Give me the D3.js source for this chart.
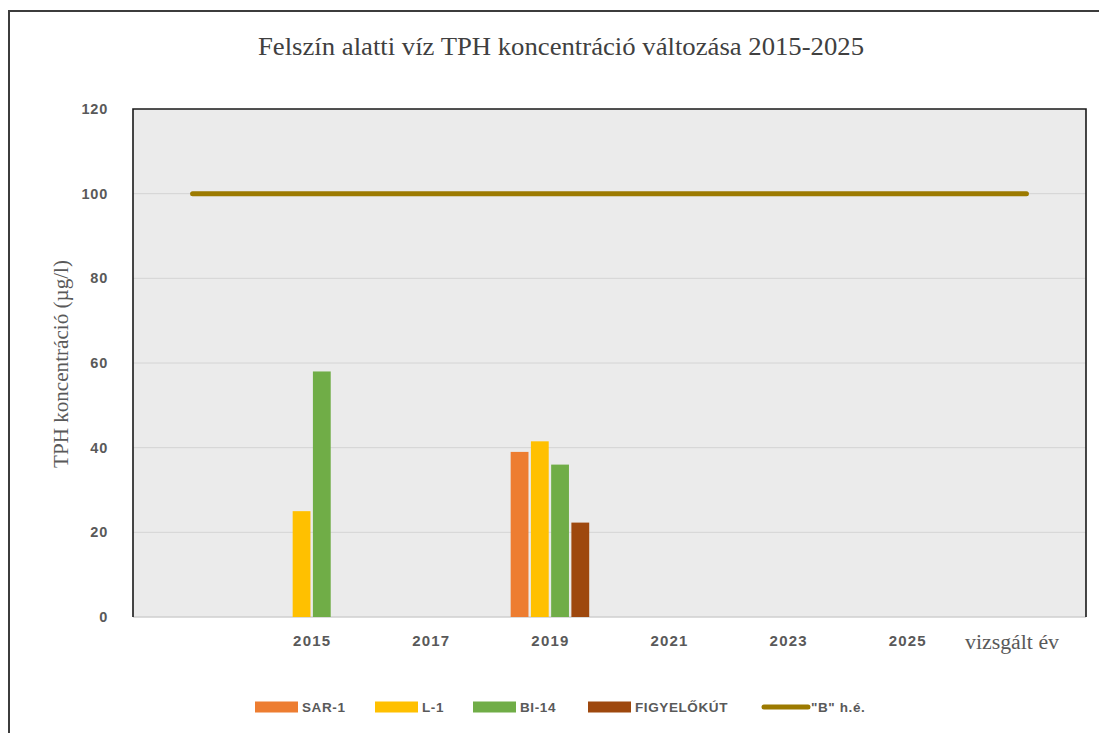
<!DOCTYPE html>
<html>
<head>
<meta charset="utf-8">
<script src="https://cdn.jsdelivr.net/npm/d3@7"></script>
<style>
  body { margin: 0; background: #fff; }
  svg { display: block; }
</style>
</head>
<body>
<div id="chart"></div>
<script>
// categories on the x axis (first one is an empty slot, last one holds the axis title)
const categories = ["", "2015", "2017", "2019", "2021", "2023", "2025", "end"];
const years = ["2015", "2017", "2019", "2021", "2023", "2025"];
const yTicks = [0, 20, 40, 60, 80, 100, 120];

const seriesNames = ["SAR-1", "L-1", "BI-14", "FIGYELŐKÚT"];
const sar1 = [null, null, 39, null, null, null];
const l1 = [25, null, 41.5, null, null, null];
const bi14 = [58, null, 36, null, null, null];
const figyelokut = [null, null, 22.3, null, null, null];
const limitB = [100, 100, 100, 100, 100, 100, 100, 100];

const colors = ["#ED7D31", "#FFC000", "#70AD47", "#9E480E"];
const lineColor = "#9C7A00";

const W = 1099, H = 733;
const margin = { top: 109, right: 13, bottom: 116, left: 133 };
const innerW = W - margin.left - margin.right;
const innerH = H - margin.top - margin.bottom;

const svg = d3.select("#chart").append("svg")
    .attr("width", W)
    .attr("height", H);

// outer frame
svg.append("rect")
    .attr("x", 9).attr("y", 11)
    .attr("width", 1200).attr("height", 1000)
    .attr("fill", "none")
    .attr("stroke", "#3c3c3c")
    .attr("stroke-width", 2);

svg.append("text")
    .attr("x", 561).attr("y", 55)
    .attr("text-anchor", "middle")
    .attr("font-family", "Liberation Serif, Times New Roman, serif")
    .attr("font-size", 25)
    .attr("fill", "#404040")
    .attr("textLength", 606)
    .attr("lengthAdjust", "spacingAndGlyphs")
    .text("Felszín alatti víz TPH koncentráció változása 2015-2025");

const g = svg.append("g").attr("transform", `translate(${margin.left},${margin.top})`);

const x = d3.scaleBand().domain(categories).range([0, innerW]).paddingInner(0.3).paddingOuter(0.15);
const xc = d3.scalePoint().domain(categories).range([0, innerW]).padding(0.5);
const x1 = d3.scaleBand().domain(seriesNames).range([0, x.bandwidth()]).padding(0.12);
const y = d3.scaleLinear().domain([0, 120]).range([innerH, 0]);

// plot background
g.append("rect")
    .attr("width", innerW).attr("height", innerH)
    .attr("fill", "#EBEBEB");

// grid
g.append("g")
    .selectAll("line")
    .data(yTicks.filter(d => d > 0 && d < 120))
    .join("line")
    .attr("x1", 0).attr("x2", innerW)
    .attr("y1", d => y(d)).attr("y2", d => y(d))
    .attr("stroke", "#D4D4D4")
    .attr("stroke-width", 1);

// bottom baseline
g.append("line")
    .attr("x1", 0).attr("x2", innerW)
    .attr("y1", innerH).attr("y2", innerH)
    .attr("stroke", "#CFCFCF")
    .attr("stroke-width", 1.5);

// bars
const allSeries = [sar1, l1, bi14, figyelokut];
const barData = [];
years.forEach((yr, i) => {
    allSeries.forEach((s, k) => {
        if (s[i] != null) barData.push({ year: yr, name: seriesNames[k], value: s[i], color: colors[k] });
    });
});

g.append("g")
    .selectAll("rect")
    .data(barData)
    .join("rect")
    .attr("x", d => x(d.year) + x1(d.name))
    .attr("y", d => y(d.value))
    .attr("width", x1.bandwidth())
    .attr("height", d => innerH - y(d.value))
    .attr("fill", d => d.color);

// "B" limit line
const line = d3.line()
    .x((d, i) => xc(categories[i]))
    .y(d => y(d));

g.append("path")
    .datum(limitB)
    .attr("d", line)
    .attr("fill", "none")
    .attr("stroke", lineColor)
    .attr("stroke-width", 5)
    .attr("stroke-linecap", "round");

// frame: top, left, right black
g.append("path")
    .attr("d", `M0,${innerH}V0H${innerW}V${innerH}`)
    .attr("fill", "none")
    .attr("stroke", "#1a1a1a")
    .attr("stroke-width", 1.6);

// y tick labels
g.append("g")
    .selectAll("text")
    .data(yTicks)
    .join("text")
    .attr("x", -25)
    .attr("y", d => y(d))
    .attr("dy", "0.35em")
    .attr("text-anchor", "end")
    .attr("font-family", "Liberation Sans, Arial, sans-serif")
    .attr("font-weight", "bold")
    .attr("font-size", 14.5)
    .attr("letter-spacing", 0.8)
    .attr("fill", "#595959")
    .text(d => d);

// x tick labels
const xAxis = d3.axisBottom(xc).tickValues(years).tickSize(0).tickPadding(0);
const xg = g.append("g")
    .attr("transform", `translate(0,${innerH})`)
    .call(xAxis);
xg.select(".domain").remove();
xg.selectAll("text")
    .attr("y", 29)
    .attr("dy", 0)
    .attr("font-family", "Liberation Sans, Arial, sans-serif")
    .attr("font-weight", "bold")
    .attr("font-size", 15)
    .attr("letter-spacing", 1.2)
    .attr("fill", "#595959");

// axis titles
svg.append("text")
    .attr("x", 1012).attr("y", 649)
    .attr("text-anchor", "middle")
    .attr("font-family", "Liberation Serif, Times New Roman, serif")
    .attr("font-size", 20)
    .attr("fill", "#595959")
    .attr("textLength", 94)
    .attr("lengthAdjust", "spacingAndGlyphs")
    .text("vizsgált év");

svg.append("text")
    .attr("transform", "translate(68,364) rotate(-90)")
    .attr("text-anchor", "middle")
    .attr("font-family", "Liberation Serif, Times New Roman, serif")
    .attr("font-size", 20)
    .attr("fill", "#595959")
    .attr("textLength", 208)
    .attr("lengthAdjust", "spacingAndGlyphs")
    .text("TPH koncentráció (µg/l)");

// legend
const legendItems = [
    { name: "SAR-1", color: colors[0], x: 255, type: "rect" },
    { name: "L-1", color: colors[1], x: 375, type: "rect" },
    { name: "BI-14", color: colors[2], x: 473, type: "rect" },
    { name: "FIGYELŐKÚT", color: colors[3], x: 588, type: "rect" },
    { name: "\"B\" h.é.", color: lineColor, x: 762, type: "line" }
];

const leg = svg.append("g")
    .selectAll("g")
    .data(legendItems)
    .join("g")
    .attr("transform", d => `translate(${d.x},707)`);

leg.filter(d => d.type === "rect").append("rect")
    .attr("x", 0).attr("y", -5.5)
    .attr("width", 43).attr("height", 11)
    .attr("fill", d => d.color);

leg.filter(d => d.type === "line").append("line")
    .attr("x1", 2).attr("x2", 46)
    .attr("y1", 0).attr("y2", 0)
    .attr("stroke", d => d.color)
    .attr("stroke-width", 5)
    .attr("stroke-linecap", "round");

leg.append("text")
    .attr("x", d => d.type === "line" ? 49 : 47)
    .attr("y", 0)
    .attr("dy", "0.36em")
    .attr("font-family", "Liberation Sans, Arial, sans-serif")
    .attr("font-weight", "bold")
    .attr("font-size", 13.5)
    .attr("letter-spacing", 0.6)
    .attr("fill", "#595959")
    .text(d => d.name);
</script>
</body>
</html>
